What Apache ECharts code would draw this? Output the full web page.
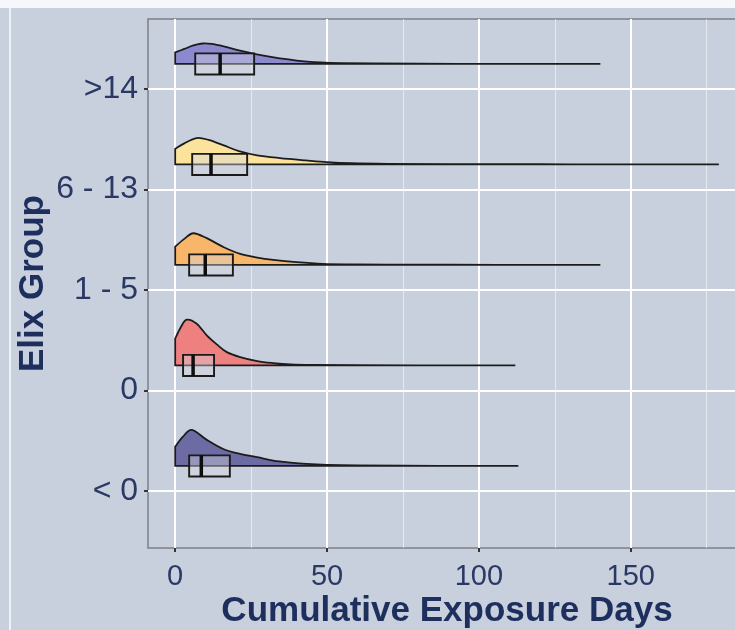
<!DOCTYPE html>
<html><head><meta charset="utf-8">
<script src="https://cdn.jsdelivr.net/npm/echarts@6/dist/echarts.min.js"></script>
<style>html,body{margin:0;padding:0;background:#c8d0de}#c{width:735px;height:630px}</style>
</head><body><div id="c"></div>
<script>
// ---- data ----
const groups = ['< 0', '0', '1 - 5', '6 - 13', '>14'];
const xTicks = [0, 50, 100, 150];
const xMinorTicks = [25, 75, 125, 175];

// half-violin density outlines: exposure days and height (in category units)
const densX_lt0 = [0, 2.5, 5.5, 10.4, 16, 21.4, 27, 32.3, 38, 43.3, 50, 60, 75, 95, 113];
const densH_lt0 = [0.192, 0.289, 0.358, 0.259, 0.166, 0.119, 0.087, 0.053, 0.033, 0.020, 0.011, 0.005, 0.002, 0.0005, 0];
const densX_0 = [0, 1.8, 3.8, 7.1, 10.4, 13.7, 17, 21.4, 27, 32.3, 38, 45, 60, 85, 112];
const densH_0 = [0.266, 0.378, 0.455, 0.415, 0.299, 0.209, 0.132, 0.083, 0.043, 0.023, 0.010, 0.005, 0.002, 0.0005, 0];
const densX_1to5 = [0, 3, 6, 10.4, 16, 21.4, 27, 32.3, 40, 48.7, 58, 70, 90, 115, 140];
const densH_1to5 = [0.182, 0.259, 0.315, 0.266, 0.176, 0.109, 0.073, 0.050, 0.027, 0.010, 0.005, 0.003, 0.0015, 0.0005, 0];
const densX_6to13 = [0, 3, 7, 11, 16, 21, 27, 34.5, 43, 50, 58, 70, 90, 120, 150, 179];
const densH_6to13 = [0.156, 0.209, 0.262, 0.244, 0.189, 0.132, 0.090, 0.063, 0.040, 0.023, 0.012, 0.006, 0.003, 0.0015, 0.0005, 0];
const densX_gt14 = [0, 3, 6, 9, 12, 16, 21, 26, 32, 40, 48, 55, 65, 80, 100, 120, 140];
const densH_gt14 = [0.114, 0.149, 0.184, 0.203, 0.199, 0.174, 0.134, 0.100, 0.067, 0.033, 0.015, 0.008, 0.004, 0.002, 0.001, 0.0005, 0];

// boxplot statistics per group (same order as groups)
const q1 = [4.6, 2.6, 4.6, 5.6, 6.6];
const med = [8.6, 5.9, 9.9, 11.8, 14.8];
const q3 = [18, 12.8, 19, 23.7, 26];

// ---- styles ----
const fills = ['#6d6ba3', '#ef8080', '#f8b66b', '#fbe39b', '#8d89cf'];
const dens = [
  {x: densX_lt0, h: densH_lt0},
  {x: densX_0, h: densH_0},
  {x: densX_1to5, h: densH_1to5},
  {x: densX_6to13, h: densH_6to13},
  {x: densX_gt14, h: densH_gt14}
];
const OFFSET = 0.25, BOXHALF = 0.105;
const labelColor = '#2a3964', titleColor = '#1e2f5e';

function makeRender(gi) {
  return function (params, api) {
    const base = gi + OFFSET;
    const xs = dens[gi].x, hs = dens[gi].h, n = xs.length;
    const pts = xs.map((v, k) => api.coord([v, base + hs[k]]));
    const b0 = api.coord([xs[0], base]);
    const bN = api.coord([xs[n - 1], base]);
    const by = b0[1];
    let d = 'M' + b0[0] + ',' + b0[1] + ' L' + pts[0][0] + ',' + pts[0][1];
    for (let k = 0; k < n - 1; k++) {
      const p0 = pts[Math.max(k - 1, 0)], p1 = pts[k], p2 = pts[k + 1], p3 = pts[Math.min(k + 2, n - 1)];
      const c1x = p1[0] + (p2[0] - p0[0]) / 6, c1y = Math.min(by, p1[1] + (p2[1] - p0[1]) / 6);
      const c2x = p2[0] - (p3[0] - p1[0]) / 6, c2y = Math.min(by, p2[1] - (p3[1] - p1[1]) / 6);
      d += ' C' + c1x + ',' + c1y + ' ' + c2x + ',' + c2y + ' ' + p2[0] + ',' + p2[1];
    }
    d += ' L' + bN[0] + ',' + bN[1] + ' Z';
    const bt = api.coord([q1[gi], base + BOXHALF]);
    const bb = api.coord([q3[gi], base - BOXHALF]);
    const mt = api.coord([med[gi], base + BOXHALF]);
    const mb = api.coord([med[gi], base - BOXHALF]);
    return {
      type: 'group',
      children: [
        {type: 'path', shape: {pathData: d}, style: {fill: fills[gi], stroke: '#1c1c1c', lineWidth: 1.8}},
        {type: 'rect', shape: {x: bt[0], y: bt[1], width: bb[0] - bt[0], height: bb[1] - bt[1]},
          style: {fill: 'rgba(215,215,222,0.4)', stroke: '#1a1a1a', lineWidth: 1.9}},
        {type: 'line', shape: {x1: mt[0], y1: mt[1], x2: mb[0], y2: mb[1]}, style: {stroke: '#0e0e0e', lineWidth: 3.5}}
      ]
    };
  };
}

const chart = echarts.init(document.getElementById('c'), null, {renderer: 'canvas'});
const series = groups.map((g, gi) => ({
  type: 'custom', name: g, xAxisIndex: 0, yAxisIndex: 0,
  renderItem: makeRender(gi), data: [[0, gi]], encode: {x: 0, y: 1}, clip: true, z: 5
}));

chart.setOption({
  animation: false,
  backgroundColor: '#c8d0de',
  textStyle: {fontFamily: 'Liberation Sans, Arial, sans-serif'},
  graphic: [
    {type: 'rect', left: 0, top: 0, shape: {width: 735, height: 8}, style: {fill: '#f6f7fa'}, z: 100},
    {type: 'rect', left: 9, top: 8, shape: {width: 2, height: 622}, style: {fill: '#eef1f6'}, z: 100}
  ],
  grid: {left: 148, top: 19, height: 529, width: 598, outerBoundsMode: 'none', containLabel: false,
    show: true, borderColor: '#7d7f86', borderWidth: 1.5, backgroundColor: 'transparent'},
  xAxis: [
    {
      type: 'value', min: -8.95, max: 187.95, position: 'bottom',
      name: 'Cumulative Exposure Days', nameLocation: 'middle', nameGap: 46, nameMoveOverlap: false,
      nameTextStyle: {fontSize: 35, fontWeight: 'bold', color: titleColor, fontFamily: 'Liberation Sans'},
      axisLine: {show: false, onZero: false},
      axisTick: {show: true, length: 4, customValues: xTicks, lineStyle: {color: '#333', width: 2}},
      axisLabel: {customValues: xTicks, fontSize: 29, color: labelColor, margin: 14, fontFamily: 'Liberation Sans'},
      splitLine: {show: true, lineStyle: {color: '#ffffff', width: 2}}
    },
    {
      type: 'value', min: -8.95, max: 187.95, position: 'bottom',
      axisLine: {show: false, onZero: false},
      axisTick: {show: false, customValues: xMinorTicks},
      axisLabel: {show: false, customValues: xMinorTicks},
      splitLine: {show: true, lineStyle: {color: 'rgba(255,255,255,0.55)', width: 1}}
    }
  ],
  yAxis: {
    type: 'value', min: -0.567, max: 4.697,
    name: 'Elix Group', nameLocation: 'middle', nameGap: 97, nameRotate: 90, nameMoveOverlap: false,
    nameTextStyle: {fontSize: 35, fontWeight: 'bold', color: titleColor, fontFamily: 'Liberation Sans'},
    axisLine: {show: false, onZero: false},
    axisTick: {show: true, length: 4, customValues: [0, 1, 2, 3, 4], lineStyle: {color: '#333', width: 2}},
    axisLabel: {customValues: [0, 1, 2, 3, 4], fontSize: 32, color: labelColor, margin: 10, fontFamily: 'Liberation Sans',
      formatter: v => groups[Math.round(v)]},
    splitLine: {show: true, lineStyle: {color: '#ffffff', width: 2}}
  },
  series: series
});
</script>
</body></html>
